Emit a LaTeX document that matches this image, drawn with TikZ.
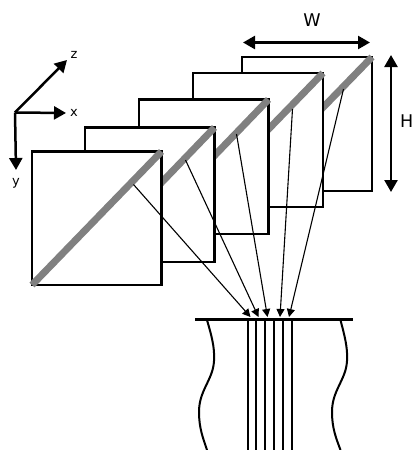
\documentclass[tikz,border=0pt]{standalone}
\usepackage{fontspec}
\setmainfont{DejaVu Sans}
\usetikzlibrary{arrows.meta}
\definecolor{gray50}{HTML}{808080}
\tikzset{
  panel/.style={draw=black,fill=white,line width=2.5pt,line join=miter},
  diag/.style={draw=gray50,line width=7pt},
  ray/.style={draw=black,line width=1.1pt,-{Triangle[length=8pt,width=8pt]}},
  axis/.style={draw=black,line width=2.5pt,-{Triangle[length=12pt,width=13pt]}},
  dimen/.style={draw=black,line width=2.5pt,{Triangle[length=12pt,width=13pt]}-{Triangle[length=12pt,width=13pt]}},
  fibre/.style={draw=black,line width=2.2pt},
  wall/.style={draw=black,line width=2pt},
  small/.style={inner sep=0pt,font=\fontsize{13}{13}\selectfont},
  big/.style={inner sep=0pt,font=\fontsize{17.5}{17.5}\selectfont}
}
\begin{document}
\begin{tikzpicture}[x=1pt,y=-1pt]
\useasboundingbox (0,0) rectangle (414,450);
% panels, back to front
\foreach \l/\t/\r/\b in {242/57/372/191,193/73/323/207,139/99.5/268.5/234,85/127.5/214.5/262,32/151.5/161.5/285}{
  \draw[panel] (\l,\t) rectangle (\r,\b);
  \draw[diag] (\l,\b) -- (\r,\t);
}
% rays
\coordinate (s1) at (133.5,184.5);
\coordinate (s2) at (185.5,160);
\coordinate (s3) at (236.5,134);
\coordinate (s4) at (292.5,109);
\coordinate (s5) at (343.5,89);
\coordinate (t1) at (250.5,317);
\coordinate (t2) at (258.5,317);
\coordinate (t3) at (267.5,317);
\coordinate (t4) at (280,317);
\coordinate (t5) at (289,317);
\foreach \i in {1,...,5}{\draw[ray] (s\i) -- (t\i);}
% fibre block
\coordinate (bl) at (195,319.5);
\coordinate (br) at (353,319.5);
\draw[line width=2.5pt] (bl) -- (br);
\foreach \x in {247.7,255.7,264.7,274,283.3,292.3}{
  \draw[fibre] (\x,319.5) -- (\x,450);
}
\draw[wall] (207,320) .. controls (211,334) and (215,347) .. (214,361)
  .. controls (213,380) and (199,390) .. (199,412)
  .. controls (199,428) and (203,438) .. (207,450);
\draw[wall] (340.5,320) .. controls (344,334) and (348,347) .. (347,361)
  .. controls (346,380) and (332,390) .. (332,412)
  .. controls (332,428) and (336,438) .. (340.5,450);
% axes
\coordinate (o) at (15,112.5);
\coordinate (ax) at (66,113);
\coordinate (ay) at (16,170);
\coordinate (az) at (67,60);
\draw[axis] (o) -- (ax);
\draw[axis] (o) -- (ay);
\draw[axis] (o) -- (az);
\node[small] (lx) at (74,112.5) {x};
\node[small] (ly) at (16,183.5) {y};
\node[small] (lz) at (74,54.5) {z};
% dimensions
\coordinate (wl) at (243,42.5);
\coordinate (wr) at (370,42.5);
\coordinate (ht) at (391,55);
\coordinate (hb) at (391,192);
\draw[dimen] (wl) -- (wr);
\draw[dimen] (ht) -- (hb);
\node[big] (lw) at (312,20.5) {W};
\node[big,anchor=east] (lh) at (413.5,121) {H};
\end{tikzpicture}
\end{document}
